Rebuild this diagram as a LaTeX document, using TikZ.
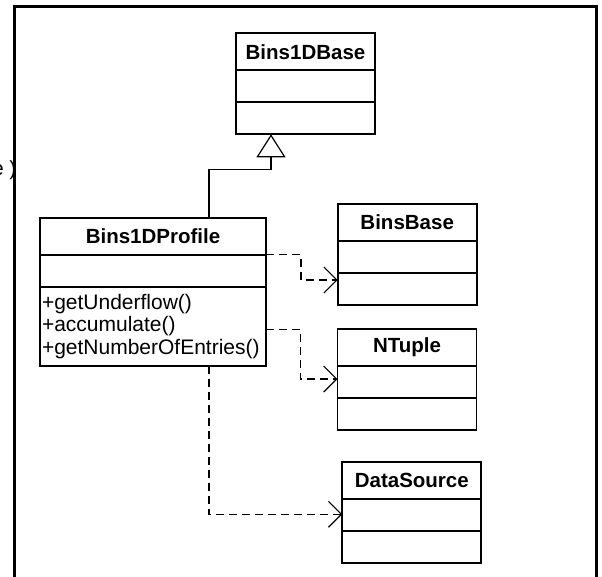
\documentclass[tikz,border=0pt]{standalone}
\usepackage{fontspec}
\setmainfont{Liberation Sans}
\usetikzlibrary{arrows.meta,positioning,calc}

\begin{document}
\begin{tikzpicture}[x=1pt,y=-1pt,
  cls/.style={draw,line width=1.8pt,inner sep=0pt,outer sep=0pt,minimum width=139pt,anchor=north west},
  clsname/.style={cls,minimum height=37pt,font=\fontsize{20.5}{24}\selectfont\bfseries},
  clspart/.style={cls,minimum height=32pt},
  dep/.style={line width=1.2pt,dash pattern=on 8pt off 5pt,-{Straight Barb[length=13pt,width=26pt,line width=1.2pt]}}]
  \useasboundingbox (0,0) rectangle (602,576);
  % outer frame, cut off at the bottom
  \draw[line width=3pt] (14.5,6) rectangle (596,592);
  \node[anchor=base east,inner sep=0pt,font=\fontsize{20.5}{24}\selectfont] (cut) at (16.5,175) {e )};

  % classes
  \node[clsname] (basename) at (236,33.3) {Bins1DBase};
  \node[clspart,below=0pt of basename] (baseattr) {};
  \node[clspart,below=0pt of baseattr] (baseops) {};

  \node[clsname,minimum width=226pt] (profname) at (40,217.7) {Bins1DProfile};
  \node[clspart,minimum width=226pt,below=0pt of profname] (profattr) {};
  \node[clspart,minimum width=226pt,minimum height=79pt,below=0pt of profattr,
        text width=222pt,align=left,font=\fontsize{21}{22.5}\selectfont] (profops)
        {+getUnderflow()\\+accumulate()\\+getNumberOfEntries()};

  \node[clsname] (binsname) at (337.7,204) {BinsBase};
  \node[clspart,below=0pt of binsname] (binsattr) {};
  \node[clspart,below=0pt of binsattr] (binsops) {};

  \node[clsname] (ntname) at (337.5,329) {NTuple};
  \node[clspart,below=0pt of ntname] (ntattr) {};
  \node[clspart,below=0pt of ntattr] (ntops) {};

  \node[clsname] (dsname) at (342.3,462.3) {DataSource};
  \node[clspart,below=0pt of dsname] (dsattr) {};
  \node[clspart,below=0pt of dsattr] (dsops) {};

  % generalization
  \draw[line width=1.2pt,-{Triangle[open,length=23pt,width=29pt,line width=1.2pt]}]
    ([xshift=169pt]profname.north west) -- ++(0,-48.4) -| ([xshift=35pt]baseops.south west);

  % dependencies
  \draw[dep] (profname.south east) -- ++(35,0) |- ([yshift=9pt]binsops.west);
  \draw[dep] ([yshift=-3pt]profops.east) -- ++(34.5,0) |- ([yshift=3pt]ntattr.west);
  \draw[dep] ([xshift=169pt]profops.south west) |- ([yshift=1pt]dsattr.west);
\end{tikzpicture}
\end{document}
